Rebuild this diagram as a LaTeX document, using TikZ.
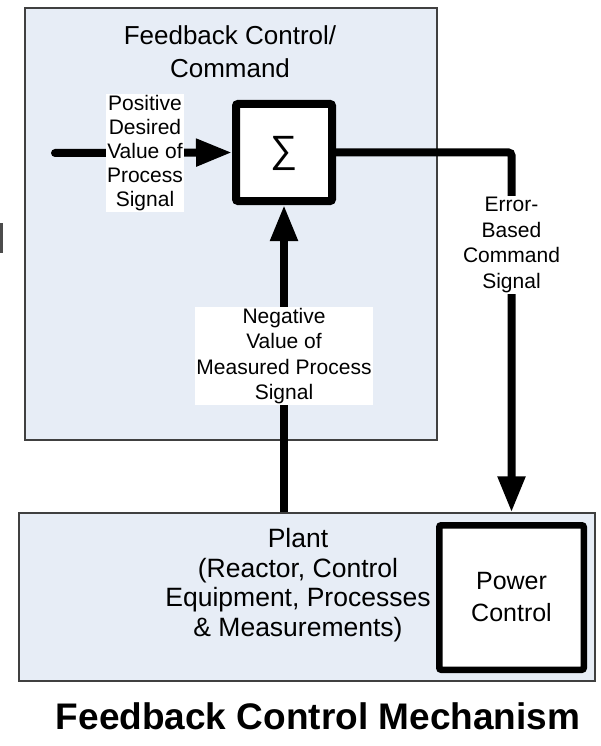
\documentclass[tikz,border=0pt]{standalone}
\usepackage{fontspec}
\setmainfont{Liberation Sans}
\newfontfamily\sigfont{Liberation Sans}
\usetikzlibrary{arrows.meta}
\definecolor{panelblue}{HTML}{E7EDF6}
\begin{document}
\begin{tikzpicture}[x=1pt,y=-1pt,
  panel/.style={draw=black!75, line width=1.2pt, fill=panelblue, inner sep=0pt},
  blk/.style={draw=black, fill=white, rounded corners=2pt, inner sep=0pt, align=center},
  sig/.style={line width=8pt, -{Triangle[length=36pt,width=26pt]}},
  lbl/.style={fill=white, inner sep=1pt, align=center, font=\fontsize{21}{25.5}\selectfont},
  ttl/.style={align=center, inner sep=0pt, font=\fontsize{26}{33}\selectfont},
]
\useasboundingbox (0,0) rectangle (600,746);
\fill[white] (0,0) rectangle (600,746);
\fill[black!70] (0,223) rectangle (2.5,253);
% panels
\node[panel, minimum width=412pt, minimum height=432pt] (ctrl) at (231,224) {};
\node[panel, minimum width=576pt, minimum height=168pt] (plant) at (307,597) {};
% blocks
\node[blk, line width=8pt, minimum width=96pt, minimum height=97pt] (sum) at (284,152.5) {};
\node[font=\sigfont\fontsize{38}{38}\selectfont, inner sep=0pt] (sumsym) at (284,153) {∑};
\node[blk, line width=6.5pt, minimum width=144.5pt, minimum height=144.5pt,
      font=\fontsize{25}{32}\selectfont] (power) at (511.5,597.5) {Power\\Control};
% titles
\node[ttl] (ctitle) at (230,52) {Feedback Control/\\Command};
\node[ttl, font=\fontsize{26.5}{29.5}\selectfont] (ptext) at (298,585)
  {Plant\\(Reactor, Control\\Equipment, Processes\\\& Measurements)};
\node[inner sep=0pt, font=\bfseries\fontsize{37}{37}\selectfont] (main) at (318,716)
  {Feedback Control Mechanism};
% connectors
\coordinate (in) at (55,153);
\draw[sig, line cap=round] (in) -- (sum.west);
\node[lbl, font=\fontsize{21}{24}\selectfont] (plbl) at (145,153)
  {Positive\\Desired\\Value of\\Process\\Signal};
\draw[sig, rounded corners=3pt] (sum.east) -| (plant.north -| power.north);
\node[lbl] (elbl) at (511.5,245) {Error-\\Based\\Command\\Signal};
\draw[sig] (plant.north -| sum.south) -- (sum.south);
\node[lbl] (nlbl) at (284,356) {Negative\\Value of\\Measured Process\\Signal};
\end{tikzpicture}
\end{document}
